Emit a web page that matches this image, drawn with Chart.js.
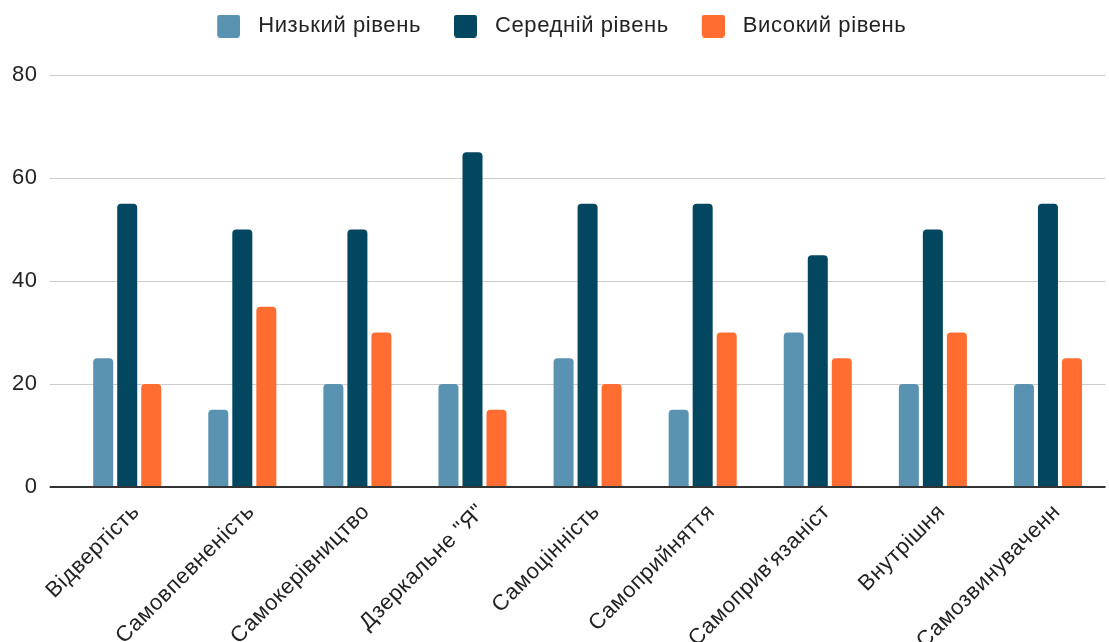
<!DOCTYPE html>
<html>
<head>
<meta charset="utf-8">
<script src="https://cdn.jsdelivr.net/npm/chart.js@4/dist/chart.umd.min.js"></script>
<style>
  html, body { margin: 0; padding: 0; background: #ffffff; }
  #wrap { width: 1109px; height: 642px; position: relative; }
</style>
</head>
<body>
<div id="wrap"><canvas id="c" width="1109" height="642"></canvas></div>
<script>
const categories = ['Відвертість', 'Самовпевненість', 'Самокерівництво', 'Дзеркальне "Я"', 'Самоцінність', 'Самоприйняття', "Самоприв'язаніст", 'Внутрішня', 'Самозвинуваченн'];
const seriesNames = ['Низький рівень', 'Середній рівень', 'Високий рівень'];
const lowValues = [25, 15, 20, 20, 25, 15, 30, 20, 20];
const midValues = [55, 50, 50, 65, 55, 55, 45, 50, 55];
const highValues = [20, 35, 30, 15, 20, 30, 25, 30, 25];
const yTickValues = [0, 20, 40, 60, 80];

const colors = ['#5a93b1', '#02465f', '#ff6d31'];
const FONT_SIZE = 22;
const LETTER_SPACING = '0.6px';

// legend swatch: transparent area on the left, 23x23 rounded square on the right
function swatch(color) {
  const c = document.createElement('canvas');
  c.width = 34; c.height = 23;
  const x = c.getContext('2d');
  x.fillStyle = color;
  x.beginPath();
  x.roundRect(11, 0, 23, 23, 3);
  x.fill();
  return c;
}
const swatches = colors.map(swatch);

Chart.defaults.font.family = "'Liberation Sans', Arial, sans-serif";
Chart.defaults.color = '#222222';

const spacingPlugin = {
  id: 'letterSpacing',
  afterInit(chart) { chart.ctx.letterSpacing = LETTER_SPACING; },
  beforeUpdate(chart) { chart.ctx.letterSpacing = LETTER_SPACING; },
  beforeDraw(chart) { chart.ctx.letterSpacing = LETTER_SPACING; }
};

const legendGap = {
  id: 'legendGap',
  beforeInit(chart) {
    const legend = chart.legend;
    if (!legend) return;
    const origFit = legend.fit;
    legend.fit = function () {
      origFit.call(this);
      this.height += 28;
    };
  }
};

const seriesValues = [lowValues, midValues, highValues];
const datasets = seriesNames.map((name, i) => ({
  label: name,
  data: seriesValues[i],
  backgroundColor: colors[i],
  borderRadius: 4,
  borderSkipped: 'start',
  categoryPercentage: 0.626,
  barPercentage: 0.833,
  pointStyle: swatches[i]
}));

new Chart(document.getElementById('c'), {
  type: 'bar',
  data: { labels: categories, datasets },
  plugins: [spacingPlugin, legendGap],
  options: {
    responsive: false,
    animation: false,
    devicePixelRatio: 1,
    layout: { padding: { left: 0, right: 3.5, top: 0, bottom: 0 } },
    plugins: {
      legend: {
        position: 'top',
        labels: {
          usePointStyle: true,
          pointStyleWidth: 48,
          boxHeight: 23,
          padding: 15,
          font: { size: FONT_SIZE },
          color: '#222222'
        }
      },
      tooltip: { enabled: false }
    },
    scales: {
      x: {
        grid: { display: false },
        border: { display: false },
        afterFit: (s) => { s.height = 155; s.paddingLeft = 0; s.paddingRight = 0; },
        ticks: {
          autoSkip: false,
          maxRotation: 45,
          minRotation: 45,
          padding: 4,
          labelOffset: 9,
          font: { size: FONT_SIZE },
          color: '#222222'
        }
      },
      y: {
        min: 0,
        max: 80,
        afterBuildTicks: (axis) => { axis.ticks = yTickValues.map(v => ({ value: v })); },
        border: { display: false },
        grid: {
          color: (ctx) => (ctx.tick && ctx.tick.value === 0) ? '#333333' : '#cccccc',
          lineWidth: (ctx) => (ctx.tick && ctx.tick.value === 0) ? 2 : 1,
          tickLength: 20,
          drawTicks: true
        },
        ticks: {
          padding: 12,
          font: { size: FONT_SIZE },
          color: '#222222'
        }
      }
    }
  }
});
</script>
</body>
</html>
